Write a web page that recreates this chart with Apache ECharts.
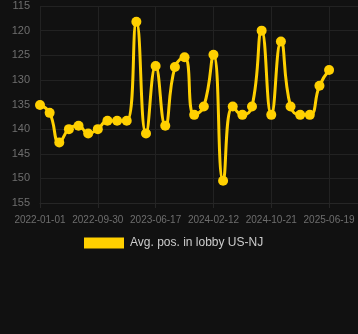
<!DOCTYPE html>
<html>
<head>
<meta charset="utf-8">
<script src="https://cdn.jsdelivr.net/npm/echarts@6/dist/echarts.min.js"></script>
<style>
html,body{margin:0;padding:0;background:#111111;}
#main{width:358px;height:334px;}
</style>
</head>
<body>
<div id="main"></div>
<script>
var categories = [
  '2022-01-01','2022-02-15','2022-04-01','2022-05-16','2022-06-30','2022-08-15',
  '2022-09-30','2022-11-12','2022-12-25','2023-02-06','2023-03-21','2023-05-04',
  '2023-06-17','2023-07-27','2023-09-05','2023-10-15','2023-11-24','2024-01-03',
  '2024-02-12','2024-03-25','2024-05-06','2024-06-17','2024-07-29','2024-09-09',
  '2024-10-21','2024-11-30','2025-01-09','2025-02-18','2025-03-30','2025-05-10',
  '2025-06-19','','',''
];
var seriesName = 'Avg. pos. in lobby US-NJ';
var values = [
  135.1, 136.7, 142.7, 140.0, 139.3, 140.9,
  140.0, 138.3, 138.3, 138.3, 118.2, 140.9,
  127.2, 139.3, 127.4, 125.4, 137.1, 135.4,
  124.9, 150.5, 135.4, 137.1, 135.4, 120.0,
  137.1, 122.2, 135.4, 137.1, 137.1, 131.2,
  128.0
];
var yMin = 115, yMax = 155, yStep = 5;

var chart = echarts.init(document.getElementById('main'), null, {renderer:'canvas'});
chart.setOption({
  backgroundColor: '#111111',
  animation: false,
  grid: {left: 40, right: 0, top: 6, bottom: 131},
  legend: {
    data: [seriesName],
    bottom: 80,
    left: 79,
    itemWidth: 40,
    itemHeight: 11,
    itemGap: 10,
    icon: 'rect',
    textStyle: {color: '#cccccc', fontSize: 12, padding: [0,0,0,1], fontFamily: 'Liberation Sans, Arial, sans-serif'}
  },
  xAxis: {
    type: 'category',
    data: categories,
    boundaryGap: false,
    axisLine: {show: true, lineStyle: {color: '#262626'}},
    axisTick: {show: true, interval: 5, alignWithLabel: true, lineStyle: {color: '#262626'}},
    axisLabel: {interval: 5, color: '#6e6e6e', fontSize: 10, margin: 12, fontFamily: 'Liberation Sans, Arial, sans-serif'},
    splitLine: {show: true, interval: 5, lineStyle: {color: '#222222'}}
  },
  yAxis: {
    type: 'value',
    inverse: true,
    min: yMin, max: yMax, interval: yStep,
    axisLine: {show: false},
    axisTick: {show: false},
    axisLabel: {color: '#6e6e6e', fontSize: 11, margin: 10, fontFamily: 'Liberation Sans, Arial, sans-serif'},
    splitLine: {show: true, lineStyle: {color: '#222222'}}
  },
  series: [{
    name: seriesName,
    type: 'line',
    data: values,
    smooth: true,
    showSymbol: true,
    showAllSymbol: true,
    symbol: 'circle',
    symbolSize: 10,
    itemStyle: {color: '#ffd000'},
    lineStyle: {color: '#ffd000', width: 3}
  }]
});
</script>
</body>
</html>
